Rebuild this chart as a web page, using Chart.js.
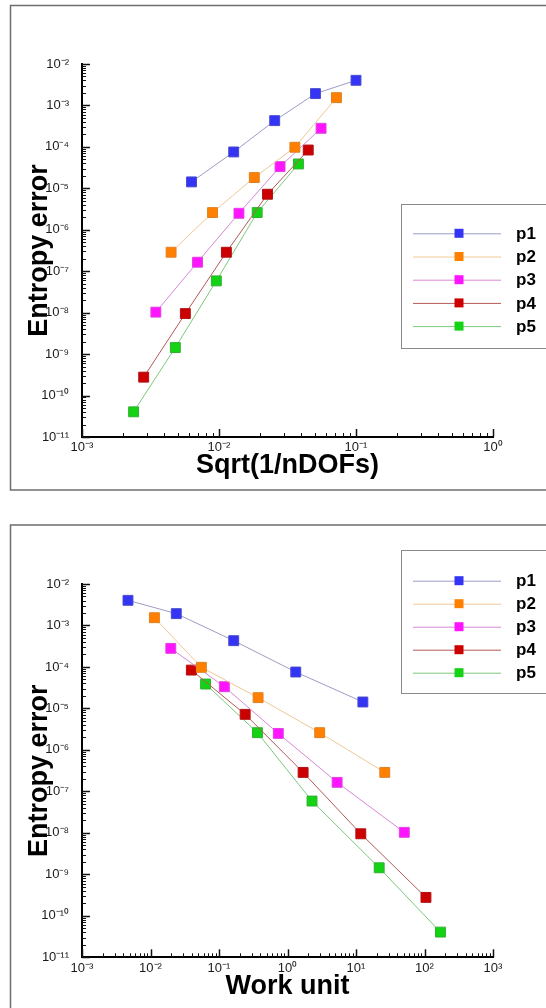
<!DOCTYPE html>
<html><head><meta charset="utf-8">
<script src="https://cdn.jsdelivr.net/npm/chart.js@4.4.1/dist/chart.umd.min.js"></script>
<style>
html,body{margin:0;padding:0;background:#fff;width:546px;height:1008px;overflow:hidden}
canvas{position:absolute;left:0}
#c1{top:0}
#c2{top:500px}
</style></head><body>
<canvas id="c1" width="546" height="500"></canvas>
<canvas id="c2" width="546" height="508"></canvas>
<script>
// ---------- data ----------
const seriesNames = ['p1', 'p2', 'p3', 'p4', 'p5'];

// entropy error (shared by both charts)
const p1Err = [1.43e-5, 7.55e-5, 4.3e-4, 1.93e-3, 4.04e-3];
const p2Err = [2.87e-7, 2.6e-6, 1.82e-5, 9.8e-5, 1.54e-3];
const p3Err = [1.03e-8, 1.65e-7, 2.5e-6, 3.34e-5, 2.81e-4];
const p4Err = [2.78e-10, 9.5e-9, 2.87e-7, 7.2e-6, 8.4e-5];
const p5Err = [4.05e-11, 1.44e-9, 5.85e-8, 2.6e-6, 3.87e-5];

// Sqrt(1/nDOFs)
const p1Dof = [6.3e-3, 0.0128, 0.0255, 0.0506, 0.1];
const p2Dof = [4.47e-3, 8.97e-3, 0.0181, 0.0358, 0.072];
const p3Dof = [3.46e-3, 6.97e-3, 0.01398, 0.0279, 0.0556];
const p4Dof = [2.82e-3, 5.68e-3, 0.01132, 0.0226, 0.0448];
const p5Dof = [2.38e-3, 4.8e-3, 9.56e-3, 0.019, 0.038];

// Work unit
const p1Work = [12.6, 1.32, 0.164, 0.0238, 0.00469];
const p2Work = [26.3, 2.95, 0.372, 0.0553, 0.0114];
const p3Work = [50.7, 5.3, 0.734, 0.1197, 0.0198];
const p4Work = [105, 11.75, 1.69, 0.241, 0.0395];
const p5Work = [171, 21.8, 2.28, 0.364, 0.0637];

// tick labels
const yTickExps = [-11, -10, -9, -8, -7, -6, -5, -4, -3, -2];
const yTickLabels = ['10⁻¹¹', '10⁻¹⁰', '10⁻⁹', '10⁻⁸', '10⁻⁷', '10⁻⁶', '10⁻⁵', '10⁻⁴', '10⁻³', '10⁻²'];
const xTopTickExps = [-3, -2, -1, 0];
const xTopTickLabels = ['10⁻³', '10⁻²', '10⁻¹', '10⁰'];
const xBotTickExps = [-3, -2, -1, 0, 1, 2, 3];
const xBotTickLabels = ['10⁻³', '10⁻²', '10⁻¹', '10⁰', '10¹', '10²', '10³'];

const markerColors = ['#3434f4', '#ff8000', '#ff14ff', '#cc0000', '#14d214'];
const markerEdges = ['#4a4ad0', '#e08020', '#e040e0', '#b01010', '#30b030'];
const lineColors = ['#9c9cc8', '#f0c896', '#d888d8', '#b45a5a', '#7cc87c'];

// ---------- helpers ----------
const FONT = "'Liberation Sans', Arial, Helvetica, sans-serif";
const TICK_FONT = "'Liberation Sans', Arial, sans-serif";

function logTicks(minExp, maxExp) {
  const t = [];
  for (let e = minExp; e <= maxExp; e++) {
    for (let s = 1; s <= 9; s++) {
      if (e === maxExp && s > 1) break;
      t.push({ value: s * Math.pow(10, e), major: s === 1 });
    }
  }
  return t;
}
function labelFor(exps, labels) {
  return function (value, index, ticks) {
    const t = ticks[index];
    if (!t || !t.major) return '';
    const e = Math.round(Math.log10(value));
    const k = exps.indexOf(e);
    return k >= 0 ? labels[k] : '';
  };
}
function makeDatasets(xs, ys) {
  return seriesNames.map((name, i) => ({
    label: name,
    data: xs[i].map((x, j) => ({ x: x, y: ys[i][j] })),
    showLine: true,
    borderColor: lineColors[i],
    borderWidth: 1,
    pointStyle: 'rect',
    pointRadius: 7,
    pointHoverRadius: 7,
    pointBackgroundColor: markerColors[i],
    pointBorderColor: markerEdges[i],
    pointBorderWidth: 1
  }));
}

const decorPlugin = {
  id: 'decor',
  beforeDraw(chart, args, opts) {
    const ctx = chart.ctx;
    ctx.save();
    ctx.fillStyle = '#fff';
    ctx.fillRect(0, 0, chart.width, chart.height);
    const f = opts.frame;
    ctx.strokeStyle = '#6e6e6e';
    ctx.lineWidth = 1.5;
    ctx.strokeRect(f.x, f.y, f.w, f.h);
    ctx.restore();
  },
  beforeDatasetsDraw(chart) {
    const { ctx, chartArea, scales } = chart;
    ctx.save();
    ctx.strokeStyle = '#111';
    for (const t of scales.x.ticks) {
      const px = Math.round(scales.x.getPixelForValue(t.value)) + 0.5;
      const len = t.major ? 8 : 4;
      ctx.lineWidth = t.major ? 1.5 : 1;
      ctx.beginPath();
      ctx.moveTo(px, chartArea.bottom);
      ctx.lineTo(px, chartArea.bottom - len);
      ctx.stroke();
    }
    for (const t of scales.y.ticks) {
      const py = Math.round(scales.y.getPixelForValue(t.value)) + 0.5;
      const len = t.major ? 8 : 4;
      ctx.lineWidth = t.major ? 1.5 : 1;
      ctx.beginPath();
      ctx.moveTo(chartArea.left, py);
      ctx.lineTo(chartArea.left + len, py);
      ctx.stroke();
    }
    ctx.restore();
  },
  afterDraw(chart, args, opts) {
    const ctx = chart.ctx;
    const L = opts.legend;
    ctx.save();
    ctx.fillStyle = '#fff';
    ctx.fillRect(L.x, L.y, L.w, L.h);
    ctx.strokeStyle = '#8a8a8a';
    ctx.lineWidth = 1;
    ctx.strokeRect(L.x + 0.5, L.y + 0.5, L.w, L.h);
    chart.data.datasets.forEach((ds, i) => {
      const y = L.firstY + i * L.step;
      ctx.strokeStyle = ds.borderColor;
      ctx.lineWidth = 1;
      ctx.beginPath();
      ctx.moveTo(L.lineX1, y + 0.5);
      ctx.lineTo(L.lineX2, y + 0.5);
      ctx.stroke();
      ctx.fillStyle = ds.pointBackgroundColor;
      ctx.fillRect(L.markX - 4.5, y - 4.5, 9, 9);
      ctx.fillStyle = '#000';
      ctx.font = 'bold 17px ' + FONT;
      ctx.textBaseline = 'middle';
      ctx.textAlign = 'left';
      ctx.fillText(ds.label, L.textX, y + 1);
    });
    ctx.restore();
  }
};

function makeChart(id, cfg) {
  return new Chart(document.getElementById(id), {
    type: 'scatter',
    data: { datasets: makeDatasets(cfg.xs, [p1Err, p2Err, p3Err, p4Err, p5Err]) },
    options: {
      responsive: false,
      animation: false,
      devicePixelRatio: 1,
      layout: { padding: { left: 0, right: cfg.padRight, top: cfg.padTop, bottom: 0 } },
      plugins: {
        legend: { display: false },
        tooltip: { enabled: false },
        decor: { frame: cfg.frame, legend: cfg.legend }
      },
      scales: {
        x: {
          type: 'logarithmic',
          min: cfg.xMin, max: cfg.xMax,
          afterBuildTicks: (s) => { s.ticks = logTicks(cfg.xExps[0], cfg.xExps[cfg.xExps.length - 1]); },
          afterFit: (s) => { s.height = cfg.xHeight; },
          grid: { display: false, drawTicks: false },
          border: { display: true, color: '#000', width: 2 },
          ticks: {
            autoSkip: false, maxRotation: 0, minRotation: 0, padding: 3,
            color: '#1a1a1a', font: { family: TICK_FONT, size: 13 },
            callback: labelFor(cfg.xExps, cfg.xLabels)
          },
          title: {
            display: true, text: cfg.xTitle, color: '#000',
            font: { family: FONT, size: 27, weight: 'bold', lineHeight: 1.2 },
            padding: { top: 0, bottom: cfg.xTitlePadBottom }
          }
        },
        y: {
          type: 'logarithmic',
          min: 1e-11, max: 1e-2,
          afterBuildTicks: (s) => { s.ticks = logTicks(-11, -2); },
          afterFit: (s) => { s.width = 82; },
          grid: { display: false, drawTicks: false },
          border: { display: true, color: '#000', width: 2 },
          ticks: {
            autoSkip: false, padding: 13,
            color: '#1a1a1a', font: { family: TICK_FONT, size: 13 },
            callback: labelFor(yTickExps, yTickLabels)
          },
          title: {
            display: true, text: 'Entropy error', color: '#000',
            font: { family: FONT, size: 27, weight: 'bold', lineHeight: 1.2 },
            padding: { top: 23.8, bottom: 0 }
          }
        }
      }
    },
    plugins: [decorPlugin]
  });
}

makeChart('c1', {
  xs: [p1Dof, p2Dof, p3Dof, p4Dof, p5Dof],
  xMin: 1e-3, xMax: 1,
  xExps: xTopTickExps, xLabels: xTopTickLabels,
  xTitle: 'Sqrt(1/nDOFs)',
  padTop: 64, padRight: 53, xHeight: 63, xTitlePadBottom: 18.2,
  frame: { x: 10.5, y: 5.5, w: 600, h: 484.5 },
  legend: { x: 401, y: 204, w: 170, h: 144, firstY: 233.3, step: 23.2, lineX1: 413, lineX2: 501, markX: 459, textX: 516 }
});

makeChart('c2', {
  xs: [p1Work, p2Work, p3Work, p4Work, p5Work],
  xMin: 1e-3, xMax: 1e3,
  xExps: xBotTickExps, xLabels: xBotTickLabels,
  xTitle: 'Work unit',
  padTop: 84, padRight: 53, xHeight: 50.7, xTitlePadBottom: 5.2,
  frame: { x: 10.5, y: 25, w: 600, h: 600 },
  legend: { x: 401, y: 50, w: 170, h: 143, firstY: 80.7, step: 23, lineX1: 413, lineX2: 501, markX: 459, textX: 516 }
});
</script>
</body></html>
